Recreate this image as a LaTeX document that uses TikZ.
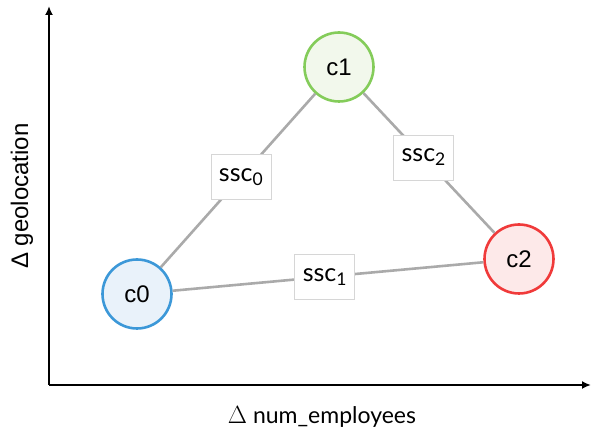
\documentclass[tikz,border=0pt]{standalone}
\usepackage{fontspec}
\setmainfont{Liberation Sans}
\newfontfamily\labelfont{Lato}
\usetikzlibrary{arrows.meta}
\definecolor{edgegray}{HTML}{AAAAAA}
\definecolor{boxgray}{HTML}{D6D6D6}
\definecolor{cblue}{HTML}{3C98D8}
\definecolor{cbluefill}{HTML}{E9F2FA}
\definecolor{cgreen}{HTML}{84CC5A}
\definecolor{cgreenfill}{HTML}{F2F8EC}
\definecolor{cred}{HTML}{F03A3A}
\definecolor{credfill}{HTML}{FDE9E9}
\tikzset{
  cluster/.style={circle, line width=2.6pt, minimum size=69pt, inner sep=0pt,
    font=\fontsize{24}{24}\selectfont},
  simbox/.style={draw=boxgray, line width=0.8pt, fill=white, minimum width=60pt,
    minimum height=45pt, inner sep=0pt, font=\labelfont\fontsize{25}{25}\selectfont},
  link/.style={draw=edgegray, line width=2.6pt},
  axis/.style={line width=2.2pt, -{Latex[length=9pt,width=8pt]}}
}
\begin{document}
\begin{tikzpicture}[x=1pt,y=-1pt]
  \useasboundingbox (0,0) rectangle (592,435);
  % axes
  \coordinate (origin) at (49,385);
  \coordinate (ytop) at (49,6);
  \coordinate (xend) at (591,385);
  \draw[axis] (origin) -- (ytop);
  \draw[axis] (origin) -- (xend);
  \node[rotate=90, font=\fontsize{24}{24}\selectfont] (ylab) at (22,196) {Δ geolocation};
  \node[font=\labelfont\fontsize{23}{23}\selectfont] (xlab) at (322,417) {$\Delta$ num\_employees};
  % clusters
  \node[cluster, draw=cblue, fill=cbluefill] (c0) at (137,294) {c0};
  \node[cluster, draw=cgreen, fill=cgreenfill] (c1) at (339,67) {c1};
  \node[cluster, draw=cred, fill=credfill] (c2) at (519,259) {c2};
  % similarity links
  \draw[link] (c0) -- (c1) node[simbox, pos=0.52] (s0) {ssc\textsubscript{0}};
  \draw[link] (c1) -- (c2) node[simbox, pos=0.46] (s2) {ssc\textsubscript{2}};
  \draw[link] (c0) -- (c2) node[simbox, pos=0.49] (s1) {ssc\textsubscript{1}};
\end{tikzpicture}
\end{document}
